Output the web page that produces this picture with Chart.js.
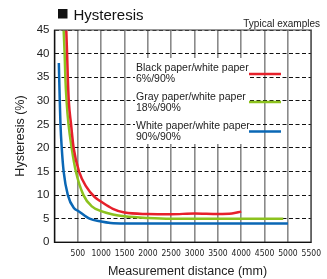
<!DOCTYPE html>
<html>
<head>
<meta charset="utf-8">
<script src="https://cdn.jsdelivr.net/npm/chart.js@4.4.1/dist/chart.umd.min.js"></script>
<style>
  html, body { margin: 0; padding: 0; background: #fff; }
  #wrap { width: 327px; height: 279px; position: relative; }
</style>
</head>
<body>
<div id="wrap"><canvas id="grafico"></canvas></div>
<script>
// datos
const negroX = [230, 252, 270, 285, 306, 355, 410, 527, 680, 860, 1000, 1250, 1500, 2000, 2500, 3000, 3500, 3800, 4000];
const negroY = [50, 45, 40, 35, 30, 25, 20, 15, 11.8, 9.6, 8.6, 7.1, 6.3, 6.0, 5.95, 6.1, 6.0, 6.1, 6.5];

const grisX = [180, 196, 217, 232, 258, 300, 368, 458, 620, 800, 1000, 1250, 1500, 2000, 2500, 3000, 4000, 4900];
const grisY = [50, 45, 40, 35, 30, 25, 20, 15, 10, 7.6, 6.6, 5.9, 5.5, 5.15, 5.0, 5.0, 5.0, 5.0];

const blancoX = [93, 100, 113, 128, 155, 196, 286, 420, 500, 750, 1000, 1200, 1500, 2500, 3500, 5000];
const blancoY = [38, 35, 30, 25, 20, 15, 10, 7.2, 6.7, 5.0, 4.4, 4.1, 4.0, 4.0, 4.0, 4.0];

const ticksY = [0, 5, 10, 15, 20, 25, 30, 35, 40, 45];
const ticksX = [500, 1000, 1500, 2000, 2500, 3000, 3500, 4000, 4500, 5000, 5500];

const etiquetas = [
    ['Black paper/white paper', '6%/90%'],
    ['Gray paper/white paper', '18%/90%'],
    ['White paper/white paper', '90%/90%']
];
const colores = ['#e6202b', '#8cc21e', '#0a67b5'];

const puntos = (xs, ys) => xs.map((x, i) => ({ x: x, y: ys[i] }));

// Plugin para titulos, marco y leyenda
const extras = {
    id: 'extras',
    afterDraw(chart) {
        const { ctx, chartArea: a } = chart;
        ctx.save();
        // marco
        ctx.strokeStyle = '#555';
        ctx.lineWidth = 1.2;
        ctx.strokeRect(a.left, a.top, a.right - a.left, a.bottom - a.top);
        ctx.strokeStyle = '#111';
        ctx.beginPath();
        ctx.moveTo(a.left, a.top); ctx.lineTo(a.left, a.bottom); ctx.lineTo(a.right, a.bottom);
        ctx.stroke();

        // titulo
        ctx.fillStyle = '#111';
        ctx.fillRect(58, 9, 9.5, 9.5);
        ctx.font = '15px "Liberation Sans", Arial, sans-serif';
        ctx.textBaseline = 'alphabetic';
        ctx.textAlign = 'left';
        ctx.fillText('Hysteresis', 73.5, 19.5);

        ctx.fillStyle = '#222';
        ctx.font = '10px "Liberation Sans", Arial, sans-serif';
        ctx.textAlign = 'right';
        ctx.fillText('Typical examples', 320, 27);

        // titulos de ejes
        ctx.font = '12.5px "Liberation Sans", Arial, sans-serif';
        ctx.textAlign = 'center';
        ctx.textBaseline = 'middle';
        ctx.fillText('Measurement distance (mm)', 187.5, 271.5);
        ctx.save();
        ctx.translate(21, 136);
        ctx.rotate(-Math.PI / 2);
        ctx.fillText('Hysteresis (%)', 0, 0);
        ctx.restore();

        // leyenda
        ctx.fillStyle = '#fff';
        ctx.fillRect(135, 58, 113, 86);
        ctx.font = '10.5px "Liberation Sans", Arial, sans-serif';
        ctx.textAlign = 'left';
        ctx.fillStyle = '#222';
        const ys = [68, 97, 126];
        const yl = [74, 102, 131.5];
        etiquetas.forEach((lab, i) => {
            ctx.fillText(lab[0], 136, ys[i]);
            ctx.fillText(lab[1], 136, ys[i] + 11.5);
            ctx.strokeStyle = colores[i];
            ctx.lineWidth = 2.5;
            ctx.beginPath();
            ctx.moveTo(249, yl[i]);
            ctx.lineTo(281, yl[i]);
            ctx.stroke();
        });
        ctx.restore();
    }
};

const ctx = document.getElementById('grafico').getContext('2d');
new Chart(ctx, {
    type: 'line',
    data: {
        datasets: [
            { data: puntos(negroX, negroY), borderColor: colores[0] },
            { data: puntos(grisX, grisY), borderColor: colores[1] },
            { data: puntos(blancoX, blancoY), borderColor: colores[2] }
        ].map(d => Object.assign(d, { borderWidth: 2.5, pointRadius: 0, fill: false, cubicInterpolationMode: 'monotone' }))
    },
    options: {
        responsive: true,
        maintainAspectRatio: false,
        animation: false,
        layout: { padding: { top: 30, right: 7, left: 0, bottom: 0 } },
        plugins: { legend: { display: false }, tooltip: { enabled: false } },
        scales: {
            x: {
                type: 'linear',
                min: 0,
                max: 5500,
                afterFit: s => { s.height = 36.7; },
                afterBuildTicks: s => { s.ticks = [0].concat(ticksX).map(v => ({ value: v })); },
                grid: { color: '#8a8a8a', lineWidth: 1.6, drawTicks: false },
                border: { display: false },
                ticks: {
                    padding: 6,
                    color: '#222',
                    maxRotation: 0,
                    minRotation: 0,
                    autoSkip: false,
                    font: { family: '"Liberation Sans Narrow", "DejaVu Sans Condensed", Arial', size: 8.5 },
                    callback: v => (v === 0 ? '' : v)
                }
            },
            y: {
                min: 0,
                max: 45,
                afterFit: s => { s.width = 54.5; },
                afterBuildTicks: s => { s.ticks = ticksY.map(v => ({ value: v })); },
                grid: { color: '#111', lineWidth: 1, drawTicks: false },
                border: { display: false, dash: [4, 2.5] },
                ticks: {
                    padding: 5,
                    color: '#222',
                    font: { family: '"Liberation Sans", Arial', size: 11.5 }
                }
            }
        }
    },
    plugins: [extras]
});
</script>
</body>
</html>
